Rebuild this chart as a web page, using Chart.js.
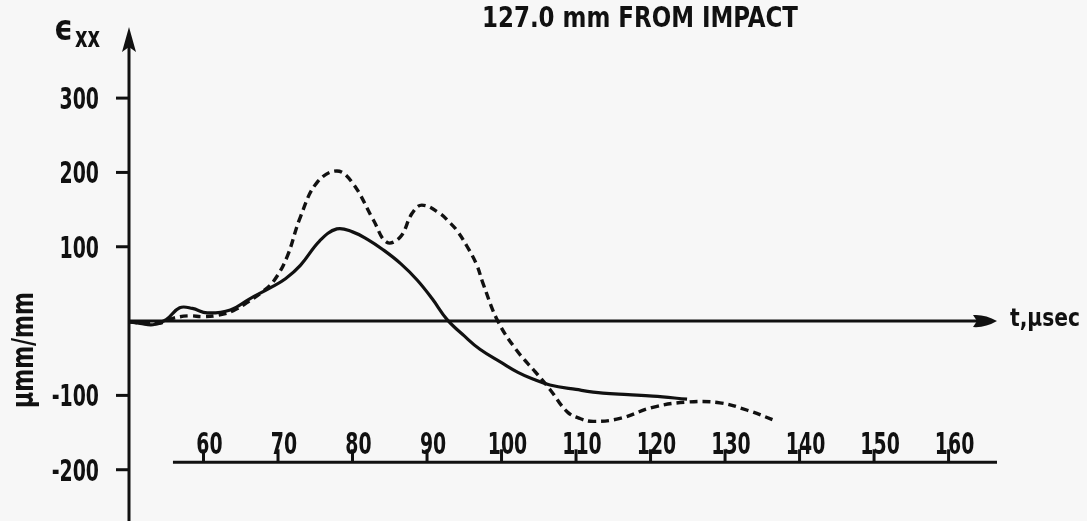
<!DOCTYPE html>
<html>
<head>
<meta charset="utf-8">
<script src="https://cdn.jsdelivr.net/npm/chart.js@4.4.1/dist/chart.umd.min.js"></script>
<style>
  html, body { margin: 0; padding: 0; background: #f7f7f7; }
  #strain { display: block; }
</style>
</head>
<body>
<canvas id="strain" width="1087" height="521"></canvas>
<script>
// strain history, 127.0 mm from impact (time in usec, strain in micro mm/mm)
var solidT = [50, 51.5, 53.2, 55, 56.8, 58.5, 60.5, 63.6, 66.2, 69, 71, 73, 75.6, 77.9, 80, 82, 84.1, 86.5, 88.7, 90.7, 92.7, 95, 97.1, 100, 102.2, 104.2, 106.5, 110, 113.6, 117, 120.3, 124.9];
var solidE = [-1, -3, -5, 2, 18, 17, 11, 15, 30, 45, 57, 75, 108, 124, 120, 110, 96, 77, 55, 30, 2, -20, -38, -56, -69, -78, -86, -92, -97, -99, -101, -105];

var dashedT = [50, 52, 54, 56, 58, 60, 62, 64, 66, 68, 69.5, 71.2, 73, 75.2, 77.9, 80, 82.8, 84.6, 86.4, 88, 89.3, 91.7, 93.1, 94, 95.4, 96.7, 97.5, 99.5, 102, 104.5, 106.5, 108.8, 110.5, 112.3, 115.9, 120.3, 124.9, 129.3, 133, 137];
var dashedE = [-1, -3, -3, 4, 7, 6, 8, 14, 26, 40, 55, 86, 140, 186, 202, 186, 136, 106, 113, 145, 156, 145, 132, 122, 100, 75, 51, 0, -39, -68, -92, -122, -131, -135, -131, -116, -109, -110, -120, -135];

var yTicks = [300, 200, 100, -100, -200];
var xTicks = [60, 70, 80, 90, 100, 110, 120, 130, 140, 150, 160];
var timeAxisAt = -190;
var timeAxisFrom = 55.9;

var FONT = '"DejaVu Sans Condensed", "DejaVu Sans", sans-serif';
var INK = '#111';
var BG = '#f7f7f7';
var SQUEEZE = 0.7;

function points(ts, es) {
  return ts.map(function (t, i) { return { x: t, y: es[i] }; });
}

// draw text compressed horizontally by factor sx around its anchor
function narrowText(c, text, x, y, font, sx, align) {
  c.save();
  c.font = font;
  c.textAlign = align;
  c.translate(x, y);
  c.scale(sx, 1);
  c.fillText(text, 0, 0);
  c.restore();
}

// draw text squeezed to a given width
function fitText(c, text, x, y, font, width, align) {
  c.save();
  c.font = font;
  var w = c.measureText(text).width;
  c.restore();
  narrowText(c, text, x, y, font, width / w, align);
}

var axesPlugin = {
  id: 'handAxes',
  beforeDraw: function (chart) {
    var c = chart.ctx;
    c.save();
    c.fillStyle = BG;
    c.fillRect(0, 0, chart.width, chart.height);
    c.restore();
  },
  beforeDatasetsDraw: function (chart) {
    var c = chart.ctx;
    var xs = chart.scales.x, ys = chart.scales.y;
    var left = chart.chartArea.left;
    var right = chart.chartArea.right;
    var y0 = ys.getPixelForValue(0);

    c.save();
    c.strokeStyle = INK;
    c.fillStyle = INK;
    c.lineCap = 'butt';
    c.textBaseline = 'alphabetic';

    // vertical strain axis with arrow
    c.lineWidth = 3;
    c.beginPath();
    c.moveTo(left, 45);
    c.lineTo(left, chart.height);
    c.stroke();
    c.beginPath();
    c.moveTo(left, 27);
    c.lineTo(left + 7, 52);
    c.lineTo(left, 47);
    c.lineTo(left - 7, 52);
    c.closePath();
    c.fill();

    // strain ticks and labels
    yTicks.forEach(function (v) {
      var py = ys.getPixelForValue(v);
      c.lineWidth = 3;
      c.beginPath();
      c.moveTo(left - 13, py);
      c.lineTo(left, py);
      c.stroke();
      narrowText(c, String(v), 99, py + 11, 'bold 30px ' + FONT, SQUEEZE, 'right');
    });

    // zero line with arrow
    c.lineWidth = 3;
    c.beginPath();
    c.moveTo(left, y0);
    c.lineTo(right - 18, y0);
    c.stroke();
    c.beginPath();
    c.moveTo(right, y0);
    c.quadraticCurveTo(right - 12, y0 - 7, right - 24, y0 - 6);
    c.lineTo(right - 20, y0);
    c.lineTo(right - 24, y0 + 6);
    c.quadraticCurveTo(right - 12, y0 + 7, right, y0);
    c.closePath();
    c.fill();

    // time axis below the curves
    var ty = ys.getPixelForValue(timeAxisAt);
    c.lineWidth = 3;
    c.beginPath();
    c.moveTo(xs.getPixelForValue(timeAxisFrom), ty);
    c.lineTo(right, ty);
    c.stroke();
    xTicks.forEach(function (t) {
      var px = xs.getPixelForValue(t);
      c.lineWidth = 3;
      c.beginPath();
      c.moveTo(px, ty);
      c.lineTo(px, ty - 13);
      c.stroke();
      narrowText(c, String(t), px + 6, ty - 8, 'bold 30px ' + FONT, SQUEEZE, 'center');
    });

    // axis titles
    fitText(c, '\u03f5', 54, 40, 'bold 36px ' + FONT, 19, 'left');
    fitText(c, 'xx', 75, 47, 'bold 29px ' + FONT, 25, 'left');
    fitText(c, 't,\u00b5sec', 1010, 326, 'bold 25px ' + FONT, 70, 'left');

    c.save();
    c.translate(33, 350);
    c.rotate(-Math.PI / 2);
    fitText(c, '\u00b5mm/mm', 0, 0, 'bold 30px ' + FONT, 116, 'center');
    c.restore();

    fitText(c, '127.0 mm FROM IMPACT', 640, 27, 'bold 28px ' + FONT, 316, 'center');

    c.restore();
  }
};

var ctxStrain = document.getElementById('strain');
var strainChart = new Chart(ctxStrain, {
  type: 'line',
  data: {
    datasets: [
      {
        label: 'solid',
        data: points(solidT, solidE),
        borderColor: INK,
        borderWidth: 3.2,
        pointRadius: 0,
        tension: 0.4,
        fill: false
      },
      {
        label: 'dashed',
        data: points(dashedT, dashedE),
        borderColor: INK,
        borderWidth: 3.4,
        borderDash: [8, 5],
        pointRadius: 0,
        tension: 0.4,
        fill: false
      }
    ]
  },
  options: {
    responsive: false,
    animation: false,
    devicePixelRatio: 1,
    layout: { padding: { left: 129, right: 90, top: 0, bottom: 0 } },
    scales: {
      x: { type: 'linear', min: 50, max: 166.5, display: false },
      y: { type: 'linear', min: -269, max: 432, display: false }
    },
    plugins: {
      legend: { display: false },
      tooltip: { enabled: false }
    }
  },
  plugins: [axesPlugin]
});
</script>
</body>
</html>
